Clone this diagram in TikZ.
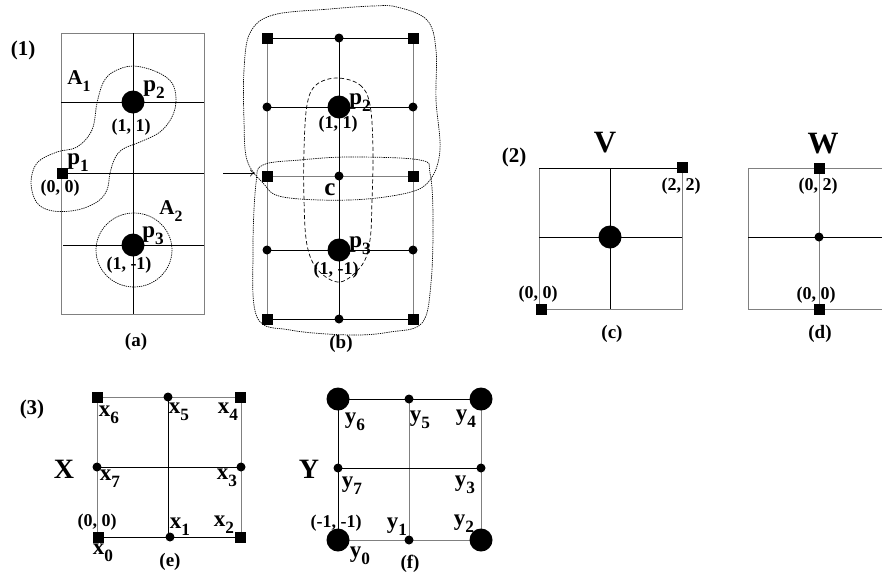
\documentclass[tikz,border=0pt]{standalone}
\usepackage{fontspec}
\setmainfont{Liberation Serif}
\usepackage{graphicx}
\usetikzlibrary{arrows.meta}
\newcommand\sbs[1]{\raisebox{-0.3em}{\scalebox{0.75}{#1}}}
\begin{document}
\begin{tikzpicture}[x=1pt,y=-1pt,
  bline/.style={line width=0.9pt,black},
  gline/.style={line width=0.9pt,black!50},
  bigdot/.style={circle,fill=black,minimum size=23pt,inner sep=0pt},
  smdot/.style={circle,fill=black,minimum size=9pt,inner sep=0pt},
  sqr/.style={rectangle,fill=black,minimum size=11pt,inner sep=0pt},
  blob/.style={line width=0.7pt,dash pattern=on 1.3pt off 0.9pt},
  pill/.style={line width=0.7pt,dash pattern=on 4pt off 2.5pt},
  lbl/.style={font=\fontsize{23}{25}\selectfont\bfseries,inner sep=0pt},
  albl/.style={font=\fontsize{21}{23}\selectfont\bfseries,inner sep=0pt},
  crd/.style={font=\fontsize{18}{20}\selectfont\bfseries,inner sep=0pt},
  captxt/.style={font=\fontsize{19}{21}\selectfont\bfseries,inner sep=0pt},
  numtxt/.style={font=\fontsize{21}{23}\selectfont\bfseries,inner sep=0pt},
  bigtxt/.style={font=\fontsize{28}{30}\selectfont\bfseries,inner sep=0pt},
  hugetxt/.style={font=\fontsize{31}{33}\selectfont\bfseries,inner sep=0pt}]
\useasboundingbox (0,0) rectangle (882,576);
\clip (0,0) rectangle (882,576);

% ---------------- panel (a)
\coordinate (aTL) at (61,33);  \coordinate (aBR) at (204,314);
\coordinate (aT) at (133,33);  \coordinate (aB) at (133,314);
\coordinate (aL1) at (61,102); \coordinate (aR1) at (204,102);
\coordinate (aL2) at (61,173); \coordinate (aR2) at (204,173);
\coordinate (aL3) at (63,245); \coordinate (aR3) at (204,245);
\draw[gline] (aTL) rectangle (aBR);
\draw[bline] (aT) -- (aB);
\draw[bline] (aL1) -- (aR1);
\draw[bline] (aL2) -- (aR2);
\draw[bline] (aL3) -- (aR3);
\draw[blob] plot[smooth cycle,tension=0.6] coordinates {
 (133,66) (157,72) (172,83) (176,100) (172,117) (160,132) (140,142) (123,149)
 (115,158) (110,173) (107,190) (97,202) (77,210) (53,211) (37,203) (31,183)
 (37,163) (57,152) (77,147) (92,130) (97,103) (103,83) (113,72)};
\draw[blob] (134,250) ellipse [x radius=38, y radius=37];
\node[bigdot] (ap2) at (133,102) {};
\node[sqr] (ap1) at (62,173) {};
\node[bigdot] (ap3) at (133,245) {};
\node[albl] (A1) at (79,81) {A\sbs{1}};
\node[lbl] (lp2a) at (154,90) {p\sbs{2}};
\node[crd] (c11a) at (131,127) {(1, 1)};
\node[lbl] (lp1a) at (78,163) {p\sbs{1}};
\node[crd] (c00a) at (60,188) {(0, 0)};
\node[albl] (A2) at (171,211) {A\sbs{2}};
\node[lbl] (lp3a) at (153,236) {p\sbs{3}};
\node[crd] (c1m1a) at (129,265) {(1, -1)};
\node[captxt] (capa) at (136,342) {(a)};
\node[numtxt] (n1) at (23,50) {(1)};

% ---------------- arrow
\coordinate (arS) at (223,173);
\coordinate (arE) at (255,173);
\draw[line width=0.6pt,-{To[length=5pt,width=7pt]}] (arS) -- (arE);

% ---------------- panel (b)
\foreach \r/\yy in {0/38,1/107,2/176,3/250,4/319}{
  \foreach \c/\xx in {0/267,1/339,2/413}{
    \coordinate (g\r\c) at (\xx,\yy);
  }
}
\draw[gline] (g00) -- (g40);
\draw[bline] (g01) -- (g41);
\draw[gline] (g02) -- (g42);
\draw[bline] (g00) -- (g02);
\draw[bline] (g10) -- (g12);
\draw[gline] (g20) -- (g22);
\draw[bline] (g30) -- (g32);
\draw[bline] (g40) -- (g42);
% upper blob
\draw[blob] plot[smooth cycle,tension=0.6] coordinates {
 (250,33) (273,15) (330,9) (373,6) (397,7) (427,20) (436,50) (436,100)
 (440,150) (430,180) (407,193) (350,200) (283,197) (263,183) (247,160)
 (244,120) (244,70)};
% lower blob
\draw[blob] plot[smooth cycle,tension=0.6] coordinates {
 (263,165) (300,160) (350,157) (420,160) (430,173) (433,217) (431,283)
 (422,323) (390,332) (350,335) (290,330) (257,317) (253,250) (256,183)};
% dashed pill
\draw[pill] plot[smooth cycle,tension=0.6] coordinates {
 (337,78) (360,85) (370,105) (373,150) (372,200) (370,240) (362,265)
 (340,282) (318,270) (307,245) (304,200) (304,150) (307,105) (316,85)};
\node[sqr] (b00) at (g00) {};
\node[smdot] (b01) at (g01) {};
\node[sqr] (b02) at (g02) {};
\node[smdot] (b10) at (g10) {};
\node[bigdot] (b11) at (g11) {};
\node[smdot] (b12) at (g12) {};
\node[sqr] (b20) at (g20) {};
\node[smdot] (b21) at (g21) {};
\node[sqr] (b22) at (g22) {};
\node[smdot] (b30) at (g30) {};
\node[bigdot] (b31) at (g31) {};
\node[smdot] (b32) at (g32) {};
\node[sqr] (b40) at (g40) {};
\node[smdot] (b41) at (g41) {};
\node[sqr] (b42) at (g42) {};
\node[lbl] (lp2b) at (360,103) {p\sbs{2}};
\node[crd] (c11b) at (338,124) {(1, 1)};
\node[font=\fontsize{25}{27}\selectfont\bfseries,inner sep=0pt] (lc) at (330,190) {c};
\node[lbl] (lp3b) at (360,246) {p\sbs{3}};
\node[crd] (c1m1b) at (336,270) {(1, -1)};
\node[captxt] (capb) at (341,344) {(b)};

% ---------------- panel (c)
\coordinate (cTL) at (539,168); \coordinate (cTR) at (682,168);
\coordinate (cBL) at (539,309); \coordinate (cBR) at (682,309);
\coordinate (cT) at (610,168); \coordinate (cB) at (610,309);
\coordinate (cL) at (539,237); \coordinate (cR) at (682,237);
\draw[gline] (cTR) -- (cBR) -- (cBL) -- (cTL);
\draw[bline] (cTL) -- (cTR);
\draw[bline] (cT) -- (cB);
\draw[bline] (cL) -- (cR);
\node[bigdot] (vc) at (610,237) {};
\node[sqr] (v00) at (541,309) {};
\node[sqr] (v22) at (682,167) {};
\node[crd] (c22c) at (681,186) {(2, 2)};
\node[crd] (c00c) at (538,294) {(0, 0)};
\node[hugetxt] (lV) at (605,143) {V};
\node[numtxt] (n2) at (514,157) {(2)};
\node[captxt] (capc) at (612,334) {(c)};

% ---------------- panel (d)
\coordinate (dTL) at (748,168); \coordinate (dTR) at (890,168);
\coordinate (dBL) at (748,309); \coordinate (dBR) at (890,309);
\coordinate (dT) at (819,168); \coordinate (dB) at (819,309);
\coordinate (dL) at (748,237); \coordinate (dR) at (890,237);
\draw[gline] (dTL) rectangle (dBR);
\draw[gline] (dT) -- (dB);
\draw[bline] (dL) -- (dR);
\node[sqr] (w02) at (819,168) {};
\node[sqr] (w00) at (819,309) {};
\node[smdot] (wc) at (819,237) {};
\node[crd] (c02d) at (818,186) {(0, 2)};
\node[crd] (c00d) at (816,295) {(0, 0)};
\node[hugetxt] (lW) at (823,144) {W};
\node[captxt] (capd) at (820,334) {(d)};

% ---------------- panel (e)
\coordinate (eTL) at (97,397); \coordinate (eTR) at (241,397);
\coordinate (eBL) at (97,537); \coordinate (eBR) at (241,537);
\coordinate (eT) at (168,397); \coordinate (eB) at (168,537);
\coordinate (eL) at (97,467); \coordinate (eR) at (241,467);
\draw[gline] (eBL) -- (eTL) -- (eTR) -- (eBR);
\draw[bline] (eBL) -- (eBR);
\draw[bline] (eT) -- (eB);
\draw[bline] (eL) -- (eR);
\node[sqr] (x6) at (97,397) {};
\node[smdot] (x5) at (168,397) {};
\node[sqr] (x4) at (240,397) {};
\node[smdot] (x7) at (97,467) {};
\node[smdot] (x3) at (241,467) {};
\node[sqr] (x0) at (98,537) {};
\node[smdot] (x1) at (170,537) {};
\node[sqr] (x2) at (240,537) {};
\node[lbl] (lx6) at (109,415) {x\sbs{6}};
\node[lbl] (lx5) at (179,412) {x\sbs{5}};
\node[lbl] (lx4) at (228,412) {x\sbs{4}};
\node[lbl] (lx7) at (110,479) {x\sbs{7}};
\node[lbl] (lx3) at (227,478) {x\sbs{3}};
\node[lbl] (lx1) at (180,527) {x\sbs{1}};
\node[lbl] (lx2) at (224,525) {x\sbs{2}};
\node[crd] (c00e) at (97,522) {(0, 0)};
\node[lbl] (lx0) at (103,553) {x\sbs{0}};
\node[captxt] (cape) at (170,562) {(e)};
\node[bigtxt] (lX) at (64,469) {X};
\node[numtxt] (n3) at (32,409) {(3)};

% ---------------- panel (f)
\coordinate (fTL) at (338,399); \coordinate (fTR) at (481,399);
\coordinate (fBL) at (338,540); \coordinate (fBR) at (481,540);
\coordinate (fT) at (409,399); \coordinate (fB) at (409,540);
\coordinate (fL) at (338,468); \coordinate (fR) at (481,468);
\draw[bline] (fBL) -- (fTL) -- (fTR);
\draw[gline] (fTR) -- (fBR) -- (fBL);
\draw[gline] (fT) -- (fB);
\draw[bline] (fL) -- (fR);
\node[bigdot] (y6) at (fTL) {};
\node[smdot] (y5) at (fT) {};
\node[bigdot] (y4) at (fTR) {};
\node[smdot] (y7) at (fL) {};
\node[smdot] (y3) at (fR) {};
\node[bigdot] (y0) at (fBL) {};
\node[smdot] (y1) at (fB) {};
\node[bigdot] (y2) at (fBR) {};
\node[lbl] (ly6) at (355,422) {y\sbs{6}};
\node[lbl] (ly5) at (420,420) {y\sbs{5}};
\node[lbl] (ly4) at (466,419) {y\sbs{4}};
\node[lbl] (ly7) at (352,486) {y\sbs{7}};
\node[lbl] (ly3) at (465,485) {y\sbs{3}};
\node[lbl] (ly1) at (397,527) {y\sbs{1}};
\node[lbl] (ly2) at (464,524) {y\sbs{2}};
\node[crd] (cm1f) at (336,523) {(-1, -1)};
\node[lbl] (ly0) at (360,556) {y\sbs{0}};
\node[captxt] (capf) at (410,564) {(f)};
\node[bigtxt] (lY) at (309,469) {Y};
\end{tikzpicture}
\end{document}
